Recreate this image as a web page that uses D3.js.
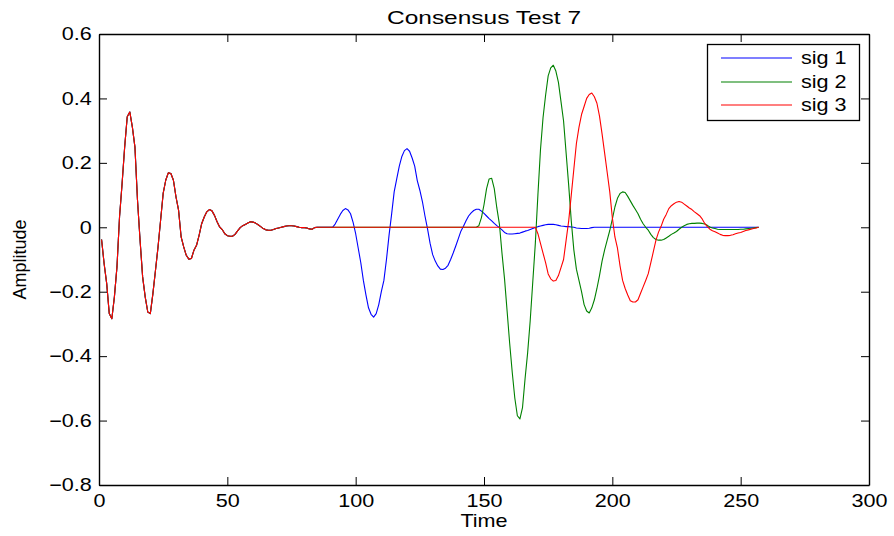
<!DOCTYPE html>
<html>
<head>
<meta charset="utf-8">
<script src="https://cdn.jsdelivr.net/npm/d3@7"></script>
<style>
  html, body { margin: 0; padding: 0; background: #ffffff; }
  svg { display: block; }
  text { font-family: "Liberation Sans", Arial, Helvetica, sans-serif; fill: #000; }
</style>
</head>
<body>
<svg id="chart" width="894" height="536"></svg>
<script>
// ---------------- DATA ----------------
const titleText = "Consensus Test 7";
const xLabel = "Time";
const yLabel = "Amplitude";
const seriesNames = ["sig 1", "sig 2", "sig 3"];
const seriesColors = ["#0000ff", "#008000", "#ff0000"];
const xTicks = [0, 50, 100, 150, 200, 250, 300];
const yTicks = [-0.8, -0.6, -0.4, -0.2, 0, 0.2, 0.4, 0.6];
const yTickLabels = ["\u22120.8", "\u22120.6", "\u22120.4", "\u22120.2", "0", "0.2", "0.4", "0.6"];

// shared opening segment, samples 1..84 (identical in all three signals)
const common = [
  -0.038, -0.113, -0.175, -0.268, -0.284, -0.216, -0.123, 0.032, 0.136, 0.249,
  0.343, 0.358, 0.311, 0.249, 0.084, -0.040, -0.154, -0.216, -0.263, -0.268,
  -0.206, -0.134, -0.061, 0.022, 0.105, 0.146, 0.169, 0.167, 0.146, 0.094,
  0.053, -0.030, -0.061, -0.087, -0.099, -0.097, -0.071, -0.056, -0.025, 0.011,
  0.032, 0.048, 0.055, 0.051, 0.037, 0.017, 0.001, -0.007, -0.020, -0.026,
  -0.028, -0.028, -0.022, -0.011, -0.001, 0.005, 0.009, 0.013, 0.017, 0.016,
  0.013, 0.008, 0.002, -0.004, -0.008, -0.009, -0.009, -0.007, -0.004, -0.002,
  0.000, 0.002, 0.004, 0.005, 0.005, 0.004, 0.002, 0.000, -0.001, -0.001,
  -0.002, -0.005, -0.006, -0.001
];

// sig 1 : samples 85..257
const sig1Tail = [
  0, 0, 0, 0, 0, 0,
  0.000, 0.010, 0.025, 0.040, 0.052, 0.058, 0.054, 0.042, 0.015, -0.020,
  -0.065, -0.110, -0.165, -0.210, -0.250, -0.270, -0.279, -0.268, -0.240, -0.200,
  -0.165, -0.100, -0.025, 0.040, 0.110, 0.150, 0.190, 0.220, 0.238, 0.244,
  0.236, 0.215, 0.190, 0.145, 0.115, 0.080, 0.035, -0.005, -0.050, -0.085,
  -0.105, -0.120, -0.130, -0.131, -0.127, -0.118, -0.100, -0.080, -0.058, -0.035,
  -0.012, 0.003, 0.020, 0.035, 0.045, 0.052, 0.056, 0.056, 0.050, 0.043,
  0.035, 0.027, 0.020, 0.012, 0.005, -0.001, -0.008, -0.016, -0.020, -0.021,
  -0.021, -0.020, -0.019, -0.018, -0.015, -0.012, -0.010, -0.007, -0.004, -0.001,
  0.002, 0.004, 0.006, 0.008, 0.009, 0.009, 0.009, 0.008, 0.006, 0.004,
  0.003, 0.002, 0.002, 0.001, 0.000, -0.002, -0.003, -0.004, -0.004, -0.004,
  -0.003, -0.001,
  0, 0, 0, 0, 0, 0, 0, 0, 0, 0,
  0, 0, 0, 0, 0, 0, 0, 0, 0, 0,
  0, 0, 0, 0, 0, 0, 0, 0, 0, 0,
  0, 0, 0, 0, 0, 0, 0, 0, 0, 0,
  0, 0, 0, 0, 0, 0, 0, 0, 0, 0,
  0, 0, 0, 0, 0, 0, 0, 0, 0, 0,
  0, 0, 0, 0, 0
];

// sig 2 : samples 85..257
const sig2Tail = [
  0, 0, 0, 0, 0, 0, 0, 0, 0, 0,
  0, 0, 0, 0, 0, 0, 0, 0, 0, 0,
  0, 0, 0, 0, 0, 0, 0, 0, 0, 0,
  0, 0, 0, 0, 0, 0, 0, 0, 0, 0,
  0, 0, 0, 0, 0, 0, 0, 0, 0, 0,
  0, 0, 0, 0, 0, 0, 0, 0, 0, 0,
  0, 0, 0,
  0.005, 0.030, 0.070, 0.120, 0.150, 0.152, 0.120, 0.060, 0.010, -0.080,
  -0.160, -0.260, -0.360, -0.450, -0.530, -0.585, -0.595, -0.560, -0.470, -0.390,
  -0.290, -0.170, -0.050, 0.100, 0.240, 0.340, 0.410, 0.470, 0.495, 0.503,
  0.485, 0.450, 0.390, 0.330, 0.230, 0.130, 0.020, -0.070, -0.130, -0.165,
  -0.200, -0.240, -0.260, -0.266, -0.250, -0.225, -0.190, -0.150, -0.105, -0.070,
  -0.040, -0.010, 0.025, 0.063, 0.090, 0.105, 0.110, 0.108, 0.096, 0.082,
  0.068, 0.055, 0.042, 0.025, 0.011, 0.000, -0.009, -0.022, -0.032, -0.038,
  -0.040, -0.040, -0.038, -0.033, -0.028, -0.022, -0.018, -0.013, -0.006, 0.000,
  0.005, 0.009, 0.011, 0.012, 0.012, 0.013, 0.013, 0.012, 0.010, 0.006,
  0.001, -0.002, -0.004, -0.006, -0.007, -0.007, -0.007, -0.007, -0.007, -0.007,
  -0.007, -0.007, -0.006, -0.006, -0.005, -0.004, -0.003, -0.002, -0.001, 0.000
];

// sig 3 : samples 85..257
const sig3Tail = [
  0, 0, 0, 0, 0, 0, 0, 0, 0, 0,
  0, 0, 0, 0, 0, 0, 0, 0, 0, 0,
  0, 0, 0, 0, 0, 0, 0, 0, 0, 0,
  0, 0, 0, 0, 0, 0, 0, 0, 0, 0,
  0, 0, 0, 0, 0, 0, 0, 0, 0, 0,
  0, 0, 0, 0, 0, 0, 0, 0, 0, 0,
  0, 0, 0, 0, 0, 0, 0, 0, 0, 0,
  0, 0, 0, 0, 0, 0, 0, 0, 0, 0,
  0, 0, 0, 0, 0, 0,
  -0.020, -0.050, -0.080, -0.110, -0.145, -0.160, -0.167, -0.165, -0.150, -0.125,
  -0.100, -0.040, 0.020, 0.100, 0.180, 0.260, 0.310, 0.350, 0.375, 0.400,
  0.412, 0.417, 0.405, 0.385, 0.345, 0.290, 0.230, 0.170, 0.110, 0.030,
  -0.030, -0.065, -0.120, -0.165, -0.190, -0.210, -0.228, -0.232, -0.232, -0.225,
  -0.205, -0.185, -0.165, -0.144, -0.110, -0.075, -0.040, -0.015, 0.003, 0.025,
  0.040, 0.058, 0.067, 0.073, 0.078, 0.080, 0.078, 0.072, 0.066, 0.060,
  0.055, 0.048, 0.042, 0.036, 0.026, 0.012, 0.002, -0.006, -0.011, -0.014,
  -0.018, -0.022, -0.025, -0.026, -0.026, -0.025, -0.023, -0.020, -0.018, -0.016,
  -0.013, -0.010, -0.008, -0.006, -0.004, -0.002, 0.000
];

const sig1 = common.concat(sig1Tail);
const sig2 = common.concat(sig2Tail);
const sig3 = common.concat(sig3Tail);
const seriesValues = [sig1, sig2, sig3];

// ---------------- LAYOUT ----------------
const W = 894, H = 536;
const M = { left: 99, right: 25, top: 34, bottom: 51 };
const FS = 18, SX = 1.2;

const svg = d3.select("#chart");
const x = d3.scaleLinear().domain([0, 300]).range([M.left, W - M.right]);
const y = d3.scaleLinear().domain([-0.8, 0.6]).range([H - M.bottom, M.top]);

// data lines (blue, green, red; red drawn last)
const line = d3.line().x((d, i) => x(i + 1)).y(d => y(d));
seriesValues.forEach((vals, k) => {
  svg.append("path")
    .datum(vals)
    .attr("fill", "none")
    .attr("stroke", seriesColors[k])
    .attr("stroke-width", 1.1)
    .attr("stroke-linejoin", "round")
    .attr("d", line);
});

// axes
function styleAxis(g) {
  g.select(".domain").attr("stroke", "#000").attr("stroke-width", 1.4);
  g.selectAll(".tick line").attr("stroke", "#000").attr("stroke-width", 1);
  g.selectAll(".tick text")
    .attr("font-size", FS)
    .attr("font-family", "'Liberation Sans', Arial, sans-serif")
    .attr("fill", "#000");
}

const xAxisB = d3.axisBottom(x).tickValues(xTicks).tickSizeInner(-8).tickSizeOuter(0).tickPadding(9);
const gxb = svg.append("g").attr("transform", `translate(0,${H - M.bottom})`).call(xAxisB);
styleAxis(gxb);
gxb.selectAll(".tick text").attr("transform", `scale(${SX},1)`);

const xAxisT = d3.axisTop(x).tickValues(xTicks).tickSizeInner(-8).tickSizeOuter(0).tickFormat("");
const gxt = svg.append("g").attr("transform", `translate(0,${M.top})`).call(xAxisT);
styleAxis(gxt);

const yAxisL = d3.axisLeft(y).tickValues(yTicks).tickSizeInner(-8).tickSizeOuter(0).tickPadding(6)
  .tickFormat((d, i) => yTickLabels[i]);
const gyl = svg.append("g").attr("transform", `translate(${M.left},0)`).call(yAxisL);
styleAxis(gyl);
gyl.selectAll(".tick text").attr("transform", `scale(${SX},1)`);

const yAxisR = d3.axisRight(y).tickValues(yTicks).tickSizeInner(-8).tickSizeOuter(0).tickFormat("");
const gyr = svg.append("g").attr("transform", `translate(${W - M.right},0)`).call(yAxisR);
styleAxis(gyr);

// title & axis labels
function stretchedText(cx, cy, txt, anchor, sx) {
  return svg.append("text")
    .attr("transform", `translate(${cx},${cy}) scale(${sx || SX},1)`)
    .attr("text-anchor", anchor || "middle")
    .attr("font-size", FS)
    .text(txt);
}
const cx = (x.range()[0] + x.range()[1]) / 2;
stretchedText(cx, 24, titleText, "middle", 1.36);
stretchedText(cx, 527, xLabel);
svg.append("text")
  .attr("transform", `translate(26,${(y.range()[0] + y.range()[1]) / 2}) rotate(-90)`)
  .attr("text-anchor", "middle")
  .attr("font-size", FS)
  .text(yLabel);

// legend
const lg = { x0: 707, y0: 44, w: 152, h: 76, rows: [58, 82, 105] };
svg.append("rect")
  .attr("x", lg.x0 + 0.5).attr("y", lg.y0 + 0.5)
  .attr("width", lg.w).attr("height", lg.h)
  .attr("fill", "#fff").attr("stroke", "#000").attr("stroke-width", 1.3);
seriesNames.forEach((name, k) => {
  const ry = lg.rows[k];
  svg.append("line")
    .attr("x1", lg.x0 + 14).attr("x2", lg.x0 + 85)
    .attr("y1", ry).attr("y2", ry)
    .attr("stroke", seriesColors[k]).attr("stroke-width", 1.1);
  stretchedText(lg.x0 + 94, ry + 6, name, "start");
});
</script>
</body>
</html>
